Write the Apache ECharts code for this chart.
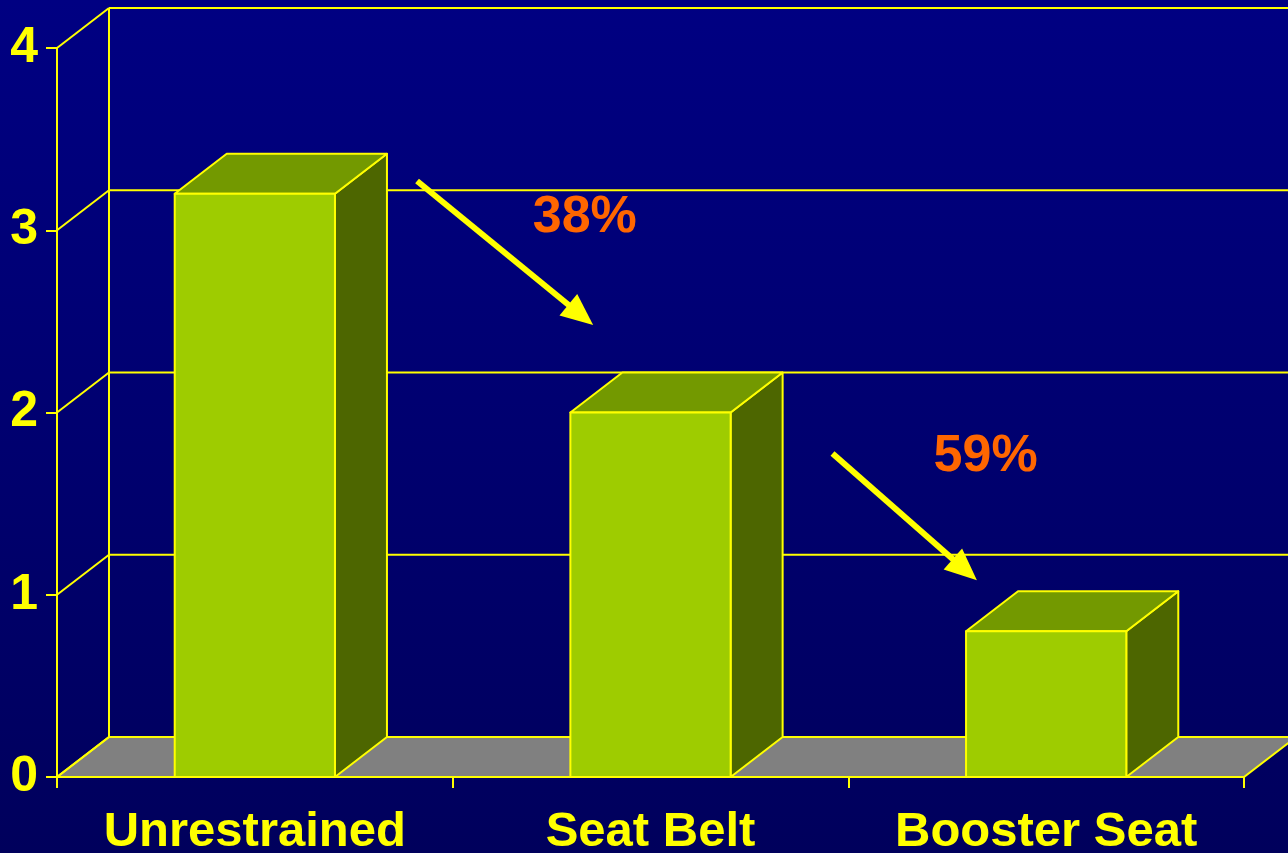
<!DOCTYPE html>
<html><head><meta charset="utf-8">
<script src="https://cdn.jsdelivr.net/npm/echarts@6/dist/echarts.min.js"></script>
<style>
html,body{margin:0;padding:0;background:#000070;}
#c{width:1288px;height:853px;background:linear-gradient(to bottom,#000082 0%,#00006e 55%,#00005c 100%);}
</style>
</head><body><div id="c"></div>
<script>
// ---- data ----
const categories = ['Unrestrained', 'Seat Belt', 'Booster Seat'];
const values = [3.2, 2.0, 0.8];
const yTicks = [0, 1, 2, 3, 4];
const changeLabels = ['38%', '59%'];

// ---- annotation anchors (category index, offset within band, value) ----
const arrowStart = [[0, 0.41, 3.27], [1, 0.46, 1.775]];
const arrowEnd   = [[0, 0.855, 2.48], [1, 0.825, 1.08]];
const labelAnchor = [[0, 0.834, 3.07], [1, 0.847, 1.755]];

// ---- style ----
const DX = 52, DY = -40;
const YEL = '#FFFF00';
const FRONT = '#9ECC00', TOP = '#739900', SIDE = '#4D6600';
const FLOOR = '#808080';
const FONT = '"Liberation Sans", Arial, sans-serif';

const chart = echarts.init(document.getElementById('c'), null, {renderer: 'canvas'});

function frameRender(params, api) {
  const cs = params.coordSys;
  const x0 = cs.x, x1 = cs.x + cs.width;
  const y0 = api.coord([0, 0])[1];
  const ch = [];
  // floor
  ch.push({type: 'polygon', shape: {points: [[x0, y0], [x1, y0], [x1 + DX, y0 + DY], [x0 + DX, y0 + DY]]},
    style: {fill: FLOOR, stroke: YEL, lineWidth: 2}});
  // back wall vertical
  const yTop = api.coord([0, yTicks[yTicks.length - 1]])[1];
  ch.push({type: 'line', shape: {x1: x0 + DX, y1: y0 + DY, x2: x0 + DX, y2: yTop + DY}, style: {stroke: YEL, lineWidth: 2}});
  yTicks.forEach(function (t) {
    const y = api.coord([0, t])[1];
    // side wall diagonal
    ch.push({type: 'line', shape: {x1: x0, y1: y, x2: x0 + DX, y2: y + DY}, style: {stroke: YEL, lineWidth: 2}});
    // back wall gridline
    if (t > 0) ch.push({type: 'line', shape: {x1: x0 + DX, y1: y + DY, x2: x1 + DX, y2: y + DY}, style: {stroke: YEL, lineWidth: 2}});
  });
  return {type: 'group', children: ch};
}

function barRender(params, api) {
  const ci = api.value(0), v = api.value(1);
  const c = api.coord([ci, v]);
  const base = api.coord([ci, 0]);
  const bw = api.size([1, 0])[0] * 0.405;
  const xl = c[0] - bw / 2, xr = c[0] + bw / 2, yt = c[1], yb = base[1];
  const st = function (f) { return {fill: f, stroke: YEL, lineWidth: 2, lineJoin: 'round'}; };
  return {type: 'group', children: [
    {type: 'polygon', shape: {points: [[xr, yt], [xr, yb], [xr + DX, yb + DY], [xr + DX, yt + DY]]}, style: st(SIDE)},
    {type: 'polygon', shape: {points: [[xl, yt], [xr, yt], [xr + DX, yt + DY], [xl + DX, yt + DY]]}, style: st(TOP)},
    {type: 'rect', shape: {x: xl, y: yt, width: bw, height: yb - yt}, style: st(FRONT)}
  ]};
}

function toPx(api, a) {
  const bandW = api.size([1, 0])[0];
  return [api.coord([a[0], 0])[0] + a[1] * bandW, api.coord([a[0], a[2]])[1]];
}

function annoRender(params, api) {
  const i = params.dataIndex;
  const s = toPx(api, arrowStart[i]);
  const e = toPx(api, arrowEnd[i]);
  const l = toPx(api, labelAnchor[i]);
  const dx = e[0] - s[0], dy = e[1] - s[1];
  const len = Math.sqrt(dx * dx + dy * dy);
  const ux = dx / len, uy = dy / len;
  const hl = 32, hw = 14;
  const bx = e[0] - ux * hl, by = e[1] - uy * hl;
  const px = -uy, py = ux;
  return {type: 'group', children: [
    {type: 'line', shape: {x1: s[0], y1: s[1], x2: bx + ux * 2, y2: by + uy * 2}, style: {stroke: YEL, lineWidth: 6}},
    {type: 'polygon', shape: {points: [[e[0], e[1]], [bx + px * hw, by + py * hw], [bx - px * hw, by - py * hw]]}, style: {fill: YEL}},
    {type: 'text', x: l[0], y: l[1], style: {text: changeLabels[i], fill: '#FF6600', font: 'bold 52px ' + FONT, align: 'center', verticalAlign: 'middle'}}
  ]};
}

const option = {
  backgroundColor: 'transparent',
  animation: false,
  grid: {left: 57, right: 44, top: 48, bottom: 76, containLabel: false, outerBoundsMode: 'none'},
  xAxis: {
    type: 'category', data: categories, boundaryGap: true,
    axisLine: {show: true, lineStyle: {color: YEL, width: 2}},
    axisTick: {show: true, length: 11, lineStyle: {color: YEL, width: 2}},
    axisLabel: {color: YEL, fontSize: 49, fontWeight: 'bold', fontFamily: FONT, margin: 31, interval: 0},
    splitLine: {show: false}
  },
  yAxis: {
    type: 'value', min: 0, max: 4, interval: 1,
    axisLine: {show: true, lineStyle: {color: YEL, width: 2}},
    axisTick: {show: true, length: 11, lineStyle: {color: YEL, width: 2}},
    axisLabel: {color: YEL, fontSize: 50, fontWeight: 'bold', fontFamily: FONT, margin: 19},
    splitLine: {show: false}
  },
  series: [
    {type: 'custom', z: 1, renderItem: frameRender, data: [[0, 0]], silent: true},
    {type: 'custom', z: 3, renderItem: barRender, data: values.map(function (v, i) { return [i, v]; }), silent: true},
    {type: 'custom', z: 4, renderItem: annoRender, data: changeLabels.map(function (t, i) { return [i, 0]; }), silent: true}
  ]
};
chart.setOption(option);
</script>
</body></html>
